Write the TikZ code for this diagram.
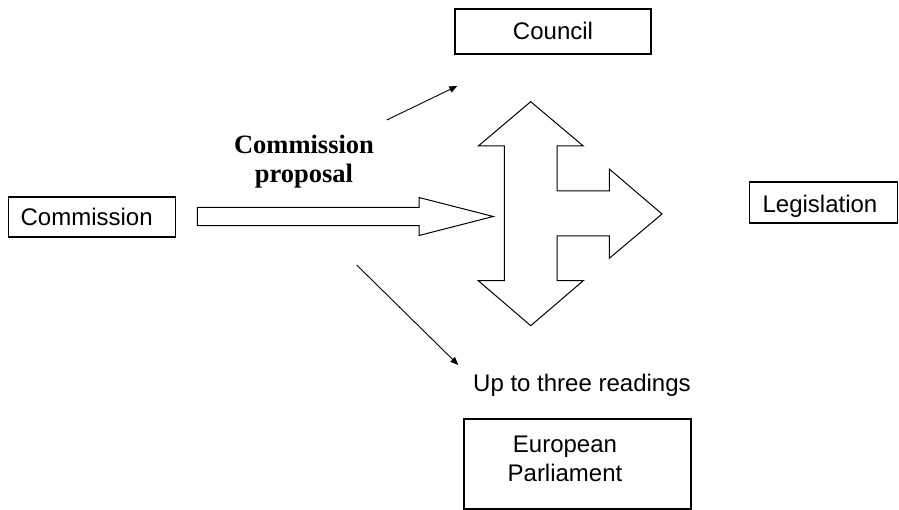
\documentclass[tikz,border=0pt]{standalone}
\usepackage{fontspec}
\setmainfont{Liberation Sans}
\newfontfamily\tnr{Liberation Serif}
\usetikzlibrary{arrows.meta}
\begin{document}
\begin{tikzpicture}[x=1pt,y=-1pt,
  box/.style={draw, line width=1.2pt, inner sep=0pt, font=\fontsize{24}{29}\selectfont},
  lbl/.style={font=\fontsize{24}{29}\selectfont, inner sep=0pt},
  thinarrow/.style={line width=0.9pt, -{Triangle[length=8pt,width=6.5pt]}},
  hollow/.style={draw, line width=1pt, fill=white, line join=miter}]
\useasboundingbox (0,0) rectangle (899,510);

% boxes
\node[box, minimum width=196, minimum height=45, text height=17pt, text depth=0pt] (council) at (553,31.5) {Council};
\node[box, anchor=west, minimum width=167, minimum height=40, text width=143pt, inner xsep=12pt, inner ysep=0pt, align=left, text height=18pt, text depth=0pt] (commission) at (8,217) {Commission};
\node[box, anchor=west, minimum width=148, minimum height=41, text width=122pt, inner xsep=13pt, inner ysep=0pt, align=left, text height=20pt, text depth=0pt] (legislation) at (749,202.5) {Legislation};
\node[draw, line width=2.4pt, anchor=north west, minimum width=227, minimum height=90, inner sep=0pt] (ep) at (463,418) {};
\node[lbl, align=center] (eptext) at (565,459.25) {European\\Parliament};

% labels
\node[inner sep=0pt, align=center, font=\tnr\bfseries\fontsize{26.5}{29}\selectfont] (proposal) at (304,161.4) {Commission\\proposal};
\node[lbl, anchor=base west] (readings) at (473,391) {Up to three readings};

% hollow right arrow
\draw[hollow] (197.3,207.3) -- (419,207.3) -- (419,197.5) -- (493.3,216.5) -- (419,235.5) -- (419,225.7) -- (197.3,225.7) -- cycle;

% cross-shaped arrow
\draw[hollow] (530.7,101.7) -- (583.3,146) -- (557,146) -- (557,191) -- (609.3,191) -- (609.3,169)
  -- (662,214) -- (609.3,258.3) -- (609.3,236) -- (557,236) -- (557,280.7) -- (583.3,280.7)
  -- (530.7,325.7) -- (478.3,280.7) -- (504.3,280.7) -- (504.3,146) -- (478.3,146) -- cycle;

% thin arrows
\coordinate (t1) at (386.7,120);
\coordinate (t2) at (457.3,86);
\draw[thinarrow] (t1) -- (t2);
\coordinate (b1) at (356.7,265);
\coordinate (b2) at (458.3,365);
\draw[thinarrow] (b1) -- (b2);
\end{tikzpicture}
\end{document}
